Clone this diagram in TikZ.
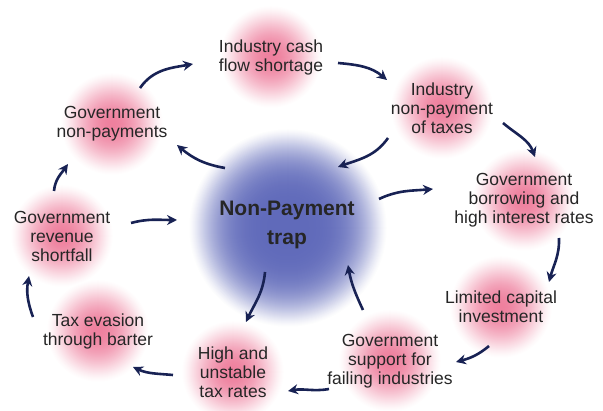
\documentclass[tikz,border=0pt]{standalone}
\usepackage{fontspec}
\setmainfont{Liberation Sans}
\usetikzlibrary{arrows.meta,backgrounds}

\definecolor{blobpink}{RGB}{238,128,158}
\definecolor{blobblue}{RGB}{96,106,186}
\definecolor{arrownavy}{RGB}{24,34,84}

\begin{document}
\begin{tikzpicture}[x=1pt,y=1pt,
    stage/.style={align=center,font=\fontsize{17.5}{19}\selectfont,text=black!85},
    core/.style={align=center,font=\fontsize{21}{29}\selectfont\bfseries,text=black!85},
    flowarrow/.style={draw=arrownavy,line width=2.6pt,-{Stealth[length=10pt,width=10pt]}}]
  \useasboundingbox (0,0) rectangle (603,-411);
  % centre and the stages round it
  \node [core] (trap) at (287,-225) {Non-Payment\\trap};
  \node [stage] (cash) at (271,-57) {Industry cash\\flow shortage};
  \node [stage] (tax) at (442,-108) {Industry\\non-payment\\of taxes};
  \node [stage] (borr) at (524,-200) {Government\\borrowing and\\high interest rates};
  \node [stage] (lim) at (501,-307) {Limited capital\\investment};
  \node [stage] (sup) at (390,-361) {Government\\support for\\failing industries};
  \node [stage] (high) at (233,-372) {High and\\unstable\\tax rates};
  \node [stage] (evas) at (98,-331) {Tax evasion\\through barter};
  \node [stage] (rev) at (62,-236) {Government\\revenue\\shortfall};
  \node [stage] (gnp) at (112,-124) {Government\\non-payments};
  % soft blobs, built up ring by ring
  \begin{scope}[on background layer]
    \foreach \r in {99,98,...,1} {
      \pgfmathsetmacro\p{100*(1-(\r/100)^4)^1.5}
      \fill [blobblue!\p!white] ([shift={(1,-3)}]trap.center) circle (\r);
    }
    \foreach \n in {cash,tax,borr,lim,sup,high,evas,rev,gnp}
      \foreach \r in {51,50,...,1} {
        \pgfmathsetmacro\p{100*(1-(\r/52)^2)^1.5}
        \fill [blobpink!\p!white] (\n.center) circle (\r);
      }
  \end{scope}
  % outer loop
  \draw [flowarrow] ([shift={(28,36)}]gnp.center) to [out=55,in=190] ([shift={(-78,-7)}]cash.center);
  \draw [flowarrow] ([shift={(67,-6)}]cash.center) to [out=-5,in=140] ([shift={(-55,28)}]tax.center);
  \draw [flowarrow] ([shift={(61,-15)}]tax.center) to [out=-40,in=110] ([shift={(11,43)}]borr.center);
  \draw [flowarrow] ([shift={(35,-38)}]borr.center) to [out=-88,in=75] ([shift={(48,25)}]lim.center);
  \draw [flowarrow] ([shift={(-12,-39)}]lim.center) to [out=-140,in=15] ([shift={(66,-1)}]sup.center);
  \draw [flowarrow] ([shift={(-61,-28)}]sup.center) to [out=190,in=10] ([shift={(55,-19)}]high.center);
  \draw [flowarrow] ([shift={(-60,-3)}]high.center) to [out=175,in=-25] ([shift={(35,-36)}]evas.center);
  \draw [flowarrow] ([shift={(-65,14)}]evas.center) to [out=110,in=-100] ([shift={(-33,-40)}]rev.center);
  \draw [flowarrow] ([shift={(-8,45)}]rev.center) to [out=85,in=-125] ([shift={(-44,-40)}]gnp.center);
  % in and out of the trap
  \draw [flowarrow] ([shift={(-54,-30)}]tax.center) to [out=-125,in=20] ([shift={(51,58)}]trap.center);
  \draw [flowarrow] ([shift={(-62,57)}]trap.center) to [out=170,in=-40] ([shift={(65,-21)}]gnp.center);
  \draw [flowarrow] ([shift={(92,26)}]trap.center) to [out=25,in=185] ([shift={(-91,11)}]borr.center);
  \draw [flowarrow] ([shift={(-27,51)}]sup.center) to [out=115,in=-80] ([shift={(61,-40)}]trap.center);
  \draw [flowarrow] ([shift={(-22,-47)}]trap.center) to [out=-95,in=65] ([shift={(13,50)}]high.center);
  \draw [flowarrow] ([shift={(69,13)}]rev.center) to [out=15,in=180] ([shift={(-110,5)}]trap.center);
\end{tikzpicture}
\end{document}
